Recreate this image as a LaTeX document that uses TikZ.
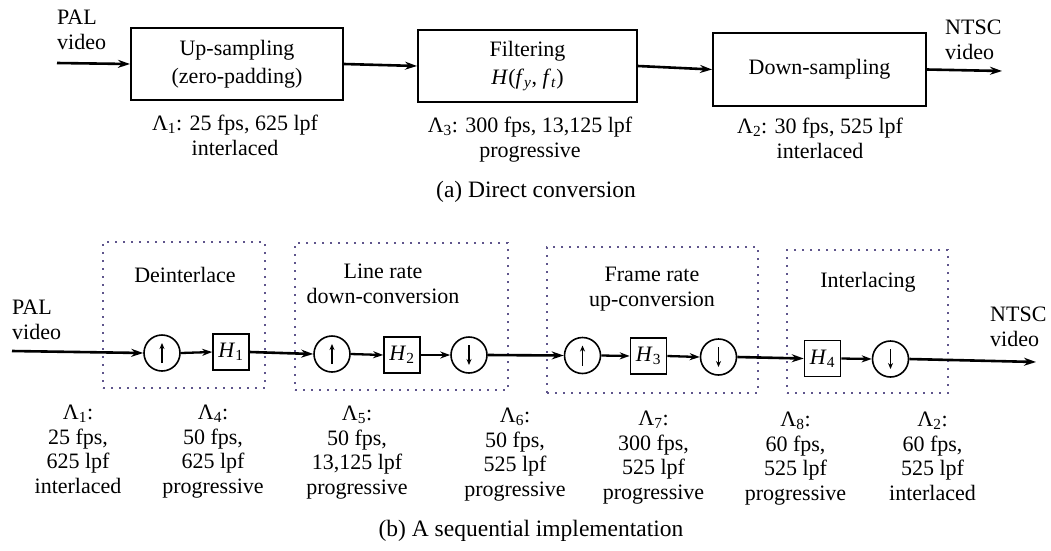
\documentclass[tikz,border=0pt]{standalone}
\usepackage{fontspec}
\setmainfont{Liberation Serif}
\usetikzlibrary{arrows.meta}
\definecolor{dotc}{RGB}{95,85,140}
\begin{document}
\begin{tikzpicture}[x=1pt,y=-1pt,
  every node/.style={font=\fontsize{22}{25}\selectfont, inner sep=0pt},
  proc/.style={draw, line width=2pt, minimum width=212pt, minimum height=72pt, align=center, font=\fontsize{22}{28}\selectfont},
  flow/.style={line width=2.6pt, -{Stealth[length=12pt,width=8pt]}},
  sflow/.style={line width=2.3pt, -{Stealth[length=10pt,width=7pt]}},
  sm/.style={draw, line width=1.6pt, circle, minimum size=36pt},
  hbox/.style={draw, line width=1.6pt, minimum size=36pt},
  grp/.style={draw=dotc, line width=2pt, dash pattern=on 2pt off 6pt},
  lab/.style={anchor=north, align=center},
  ttl/.style={anchor=north, align=center},
  capt/.style={font=\fontsize{23.5}{26}\selectfont},
  upa/.style={line width=1.4pt, -{Stealth[length=6pt,width=5pt]}},
]
\useasboundingbox (0,0) rectangle (1051,550);

% ---------- (a) direct conversion ----------
\node[anchor=north west, align=left] (pal1) at (57,10) {PAL\\video};
\node[anchor=north west, align=left] (ntsc1) at (945,20) {NTSC\\video};
\coordinate (in1) at (57,63);
\coordinate (out1) at (1002,71);

\node[proc] (up) at (237,64) {Up-sampling\\(zero-padding)};
\node[proc, minimum width=219pt] (filt) at (527.5,66) {Filtering\\\textit{H}(\textit{f}\textsubscript{\textit{y}}, \textit{f}\textsubscript{\textit{t}})};
\node[proc, minimum width=213pt, minimum height=73pt] (down) at (819.5,69.5) {Down-sampling};

\draw[flow] (in1) -- (up.west);
\draw[flow] (up.east) -- (filt.west);
\draw[flow] (filt.east) -- (down.west);
\draw[flow] (down.east) -- (out1);

\node[lab] (l1) at (235,115) {Λ\textsubscript{1}: 25 fps, 625 lpf\\interlaced};
\node[lab] (l3) at (530,117) {Λ\textsubscript{3}: 300 fps, 13,125 lpf\\progressive};
\node[lab] (l2) at (820,118) {Λ\textsubscript{2}: 30 fps, 525 lpf\\interlaced};

\node[capt] (capa) at (536,192) {(a) Direct conversion};

% ---------- (b) sequential implementation ----------
\node[grp, minimum width=162pt, minimum height=146pt] (g1) at (184,315) {};
\node[grp, minimum width=213pt, minimum height=147pt] (g2) at (401.5,316.5) {};
\node[grp, minimum width=211pt, minimum height=146pt] (g3) at (652.5,320) {};
\node[grp, minimum width=161pt, minimum height=143pt] (g4) at (867.5,321.5) {};

\node[ttl] (t1) at (185,267) {Deinterlace};
\node[ttl] (t2) at (383,264) {Line rate\\down-conversion};
\node[ttl] (t3) at (652,267) {Frame rate\\up-conversion};
\node[ttl] (t4) at (868,272) {Interlacing};

\node[anchor=north west, align=left] (pal2) at (12,300) {PAL\\video};
\node[anchor=north west, align=left] (ntsc2) at (990,307) {NTSC\\video};

\coordinate (in2) at (12,351);
\coordinate (out2) at (1036,362);

\node[sm] (c1) at (162,353) {};
\node[hbox] (h1) at (231,352) {\textit{H}\textsubscript{1}};
\node[sm] (c2) at (332,354) {};
\node[hbox] (h2) at (402,355) {\textit{H}\textsubscript{2}};
\node[sm] (c3) at (469,355) {};
\node[sm] (c4) at (582.5,355.5) {};
\node[hbox] (h3) at (648.5,356) {\textit{H}\textsubscript{3}};
\node[sm] (c5) at (718.5,357) {};
\node[hbox] (h4) at (822.5,358.5) {\textit{H}\textsubscript{4}};
\node[sm] (c6) at (890.5,359) {};

\draw[flow] (in2) -- (c1.west);
\draw[sflow] (c1.east) -- (h1.west);
\draw[flow] (h1.east) -- (c2.west);
\draw[sflow] (c2.east) -- (h2.west);
\draw[sflow] (h2.east) -- (c3.west);
\draw[flow] (c3.east) -- (c4.west);
\draw[sflow] (c4.east) -- (h3.west);
\draw[sflow] (h3.east) -- (c5.west);
\draw[flow] (c5.east) -- (h4.west);
\draw[sflow] (h4.east) -- (c6.west);
\draw[flow] (c6.east) -- (out2);

% arrows inside the rate-change circles
\foreach \c in {c1,c2,c4} {
  \draw[upa] ([yshift=-10pt]\c.center) -- ([yshift=10pt]\c.center);
}
\foreach \c in {c3,c5,c6} {
  \draw[upa] ([yshift=10pt]\c.center) -- ([yshift=-10pt]\c.center);
}

\begin{scope}[every node/.style={font=\fontsize{22}{24.5}\selectfont, inner sep=0pt}]
\node[lab] (b1) at (78,405) {Λ\textsubscript{1}:\\25 fps,\\625 lpf\\interlaced};
\node[lab] (b4) at (213,405) {Λ\textsubscript{4}:\\50 fps,\\625 lpf\\progressive};
\node[lab] (b5) at (357,406) {Λ\textsubscript{5}:\\50 fps,\\13,125 lpf\\progressive};
\node[lab] (b6) at (515,408) {Λ\textsubscript{6}:\\50 fps,\\525 lpf\\progressive};
\node[lab] (b7) at (653.5,411) {Λ\textsubscript{7}:\\300 fps,\\525 lpf\\progressive};
\node[lab] (b8) at (795.5,412) {Λ\textsubscript{8}:\\60 fps,\\525 lpf\\progressive};
\node[lab] (b2) at (932.5,412) {Λ\textsubscript{2}:\\60 fps,\\525 lpf\\interlaced};
\end{scope}

\node[capt] (capb) at (531,531) {(b) A sequential implementation};
\end{tikzpicture}
\end{document}
